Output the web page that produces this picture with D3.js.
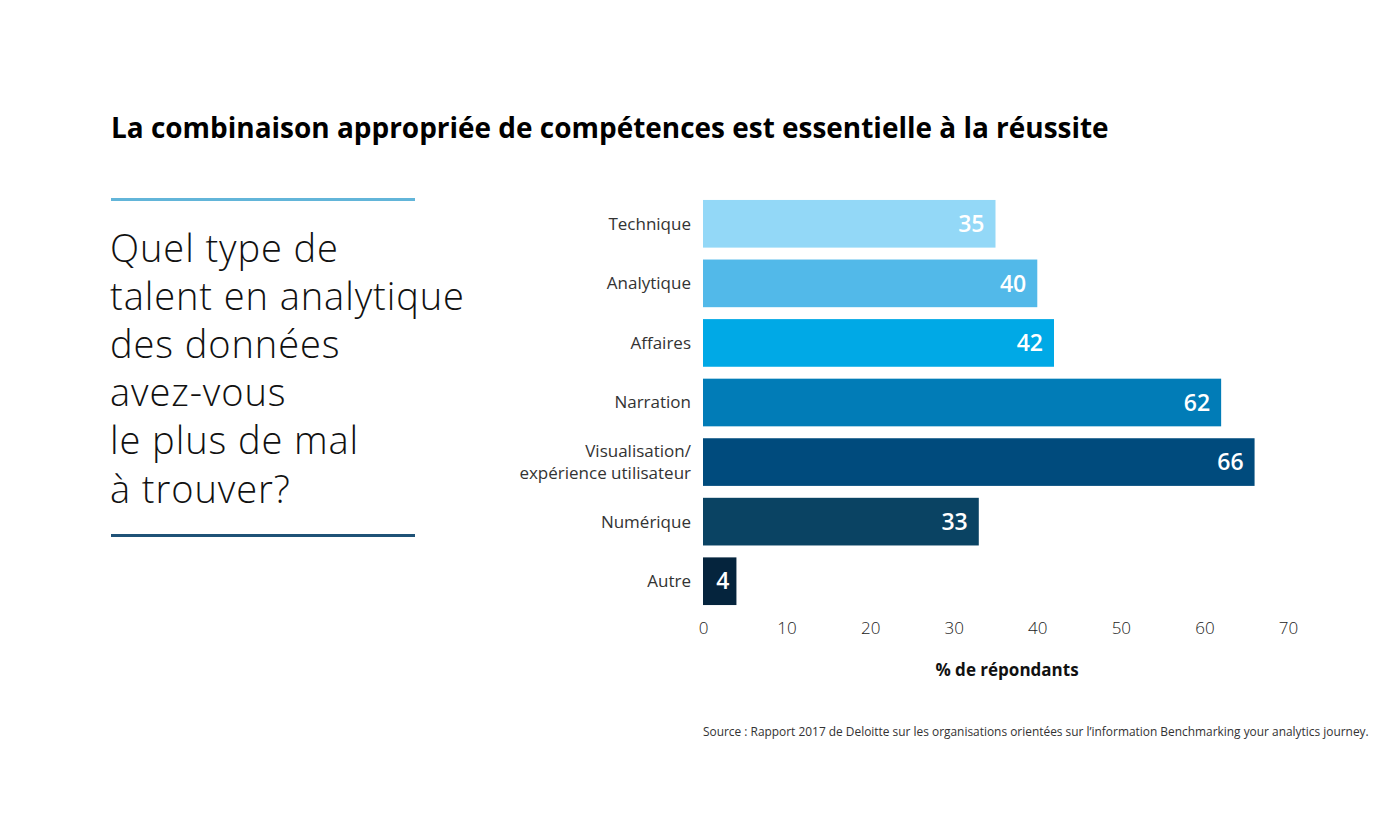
<!DOCTYPE html>
<html><head><meta charset="utf-8">
<script src="https://cdn.jsdelivr.net/npm/d3@7"></script>
<style>
body{margin:0;background:#fff;}
svg{display:block;font-family:"Open Sans",sans-serif;}
</style></head>
<body><svg id="c" width="1400" height="840"></svg>
<script>
const categories = ["Technique","Analytique","Affaires","Narration","Visualisation/\nexpérience utilisateur","Numérique","Autre"];
const values = [35,40,42,62,66,33,4];
const colors = ["#93d8f7","#52b9e9","#00a9e6","#017cb7","#004b7d","#0a4363","#05243d"];
const tickValues = [0,10,20,30,40,50,60,70];
const title = "La combinaison appropriée de compétences est essentielle à la réussite";
const questionLines = ["Quel type de","talent en analytique","des données","avez-vous","le plus de mal","à trouver?"];
const axisTitle = "% de répondants";
const source = "Source : Rapport 2017 de Deloitte sur les organisations orientées sur l’information Benchmarking your analytics journey.";

const svg = d3.select("#c");
function fit(sel, w){ const l = sel.node().getComputedTextLength(); const fs = parseFloat(sel.attr("font-size")); sel.attr("font-size", fs*w/l); }

fit(svg.append("text").attr("x",111).attr("y",138).attr("font-size",25).attr("font-weight",700).attr("fill","#000").text(title), 998);

svg.append("rect").attr("x",111).attr("y",198).attr("width",304).attr("height",3).attr("fill","#62b5d9");
svg.append("rect").attr("x",111).attr("y",534).attr("width",304).attr("height",3).attr("fill","#1f5277");

const q = svg.append("g");
const qt = questionLines.map((t,i)=>
  q.append("text").attr("x",110).attr("y",262+i*48.1).attr("font-size",38).attr("font-weight",300)
   .attr("letter-spacing",0.9).attr("fill","#111").text(t));
// fit the widest line to reference width
{ const l = qt[1].node().getComputedTextLength(); const f = 355/l; qt.forEach(s=>s.attr("font-size",38*Math.min(1.06,Math.max(0.94,f)))); }

const x = d3.scaleLinear().domain([0,70]).range([703,1288]);
const y = d3.scaleBand().domain(categories).range([194,611]).paddingInner(0.2).paddingOuter(0.1);

svg.append("g").selectAll("rect").data(values).join("rect")
  .attr("x",x(0)).attr("y",(d,i)=>y(categories[i])).attr("width",d=>x(d)-x(0)).attr("height",y.bandwidth())
  .attr("fill",(d,i)=>colors[i]);

svg.append("g").selectAll("text").data(values).join("text")
  .attr("x",d=> (x(d)-x(0))<60 ? (x(0)+x(d))/2+3 : x(d)-11)
  .attr("y",(d,i)=>y(categories[i])+y.bandwidth()/2)
  .attr("dy","0.36em").attr("text-anchor",d=> (x(d)-x(0))<60 ? "middle":"end")
  .attr("font-size",23).attr("font-weight",600).attr("fill","#fff").text(d=>d);

const lab = svg.append("g");
categories.forEach((c,i)=>{
  const lines = c.split("\n");
  const cy = y(c)+y.bandwidth()/2;
  const t = lab.append("text").attr("x",691).attr("text-anchor","end").attr("font-size",17).attr("font-weight",400).attr("fill","#333");
  lines.forEach((l,j)=>{
    t.append("tspan").attr("x",691).attr("y",cy + (j-(lines.length-1)/2)*22).attr("dy","0.35em").text(l);
  });
});

const ax = svg.append("g").attr("transform","translate(0,614)")
  .call(d3.axisBottom(x).tickValues(tickValues).tickSize(0).tickPadding(8));
ax.select(".domain").remove();
ax.selectAll("text").attr("font-family","Open Sans").attr("font-size",17).attr("font-weight",300).attr("fill","#222");

svg.append("text").attr("x",1007).attr("y",676).attr("text-anchor","middle").attr("font-size",17).attr("font-weight",700).attr("fill","#111").text(axisTitle);

fit(svg.append("text").attr("x",703).attr("y",736).attr("font-size",12.5).attr("font-weight",400).attr("fill","#333").text(source), 667);
</script></body></html>
